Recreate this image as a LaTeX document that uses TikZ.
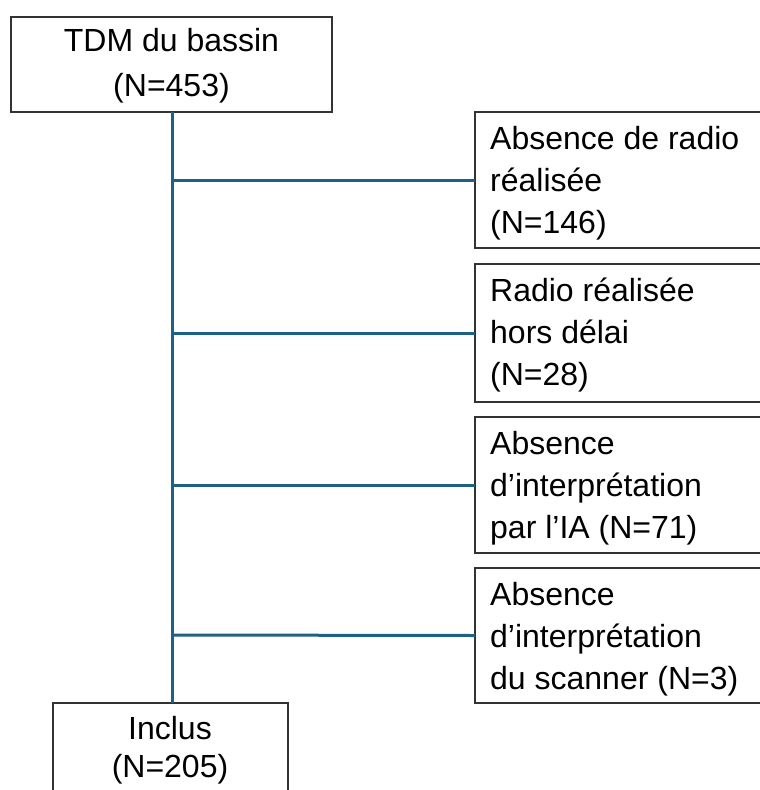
\documentclass[tikz,border=0pt]{standalone}
\usepackage{fontspec}
\setmainfont{Liberation Sans}
\begin{document}
\begin{tikzpicture}[x=1pt,y=-1pt,
  box/.style={draw=black!80,line width=1.6pt,fill=white,inner sep=0pt,outer sep=0pt},
  link/.style={draw={rgb,255:red,31;green,96;blue,133},line width=3pt},
  lbl/.style={font=\fontsize{32}{42}\selectfont,inner sep=0pt,anchor=north west}]
\useasboundingbox (0,0) rectangle (760,790);
\clip (0,0) rectangle (760,790);
% boxes
\node[box,minimum width=321pt,minimum height=95pt,anchor=north west] (top) at (11,17) {};
\node[box,minimum width=235pt,minimum height=100pt,anchor=north west] (inc) at (53,703) {};
\node[box,minimum width=320pt,minimum height=136pt,anchor=north west] (b1) at (475,112) {};
\node[box,minimum width=320pt,minimum height=138pt,anchor=north west] (b2) at (475,264) {};
\node[box,minimum width=320pt,minimum height=136pt,anchor=north west] (b3) at (475,417) {};
\node[box,minimum width=320pt,minimum height=135pt,anchor=north west] (b4) at (475,568) {};
% texts
\node[font=\fontsize{32}{45}\selectfont,align=center,inner sep=0pt] (ttop) at ([yshift=-1pt]top.center) {TDM du bassin\\(N=453)};
\node[font=\fontsize{32}{38}\selectfont,align=center,inner sep=0pt,anchor=north] (tinc) at (170,716) {Inclus\\(N=205)};
\node[lbl,align=left] (t1) at (490,126) {Absence de radio\\réalisée\\(N=146)};
\node[lbl,align=left] (t2) at (490,278) {Radio réalisée\\hors délai\\(N=28)};
\node[lbl,align=left] (t3) at (490,431) {Absence\\d’interprétation\\par l’IA (N=71)};
\node[lbl,align=left] (t4) at (490,582) {Absence\\d’interprétation\\du scanner (N=3)};
% connectors
\coordinate (j1) at (172,180);
\coordinate (j2) at (172,333);
\coordinate (j3) at (172,485);
\coordinate (j4) at (172,635);
\draw[link] (top.south -| j1) -- (inc.north -| j1);
\draw[link] (j1) -- (b1.west);
\draw[link] (j2) -- (b2.west);
\draw[link] (j3) -- (b3.west);
\draw[link] (j4) -- (b4.west);
\end{tikzpicture}
\end{document}
